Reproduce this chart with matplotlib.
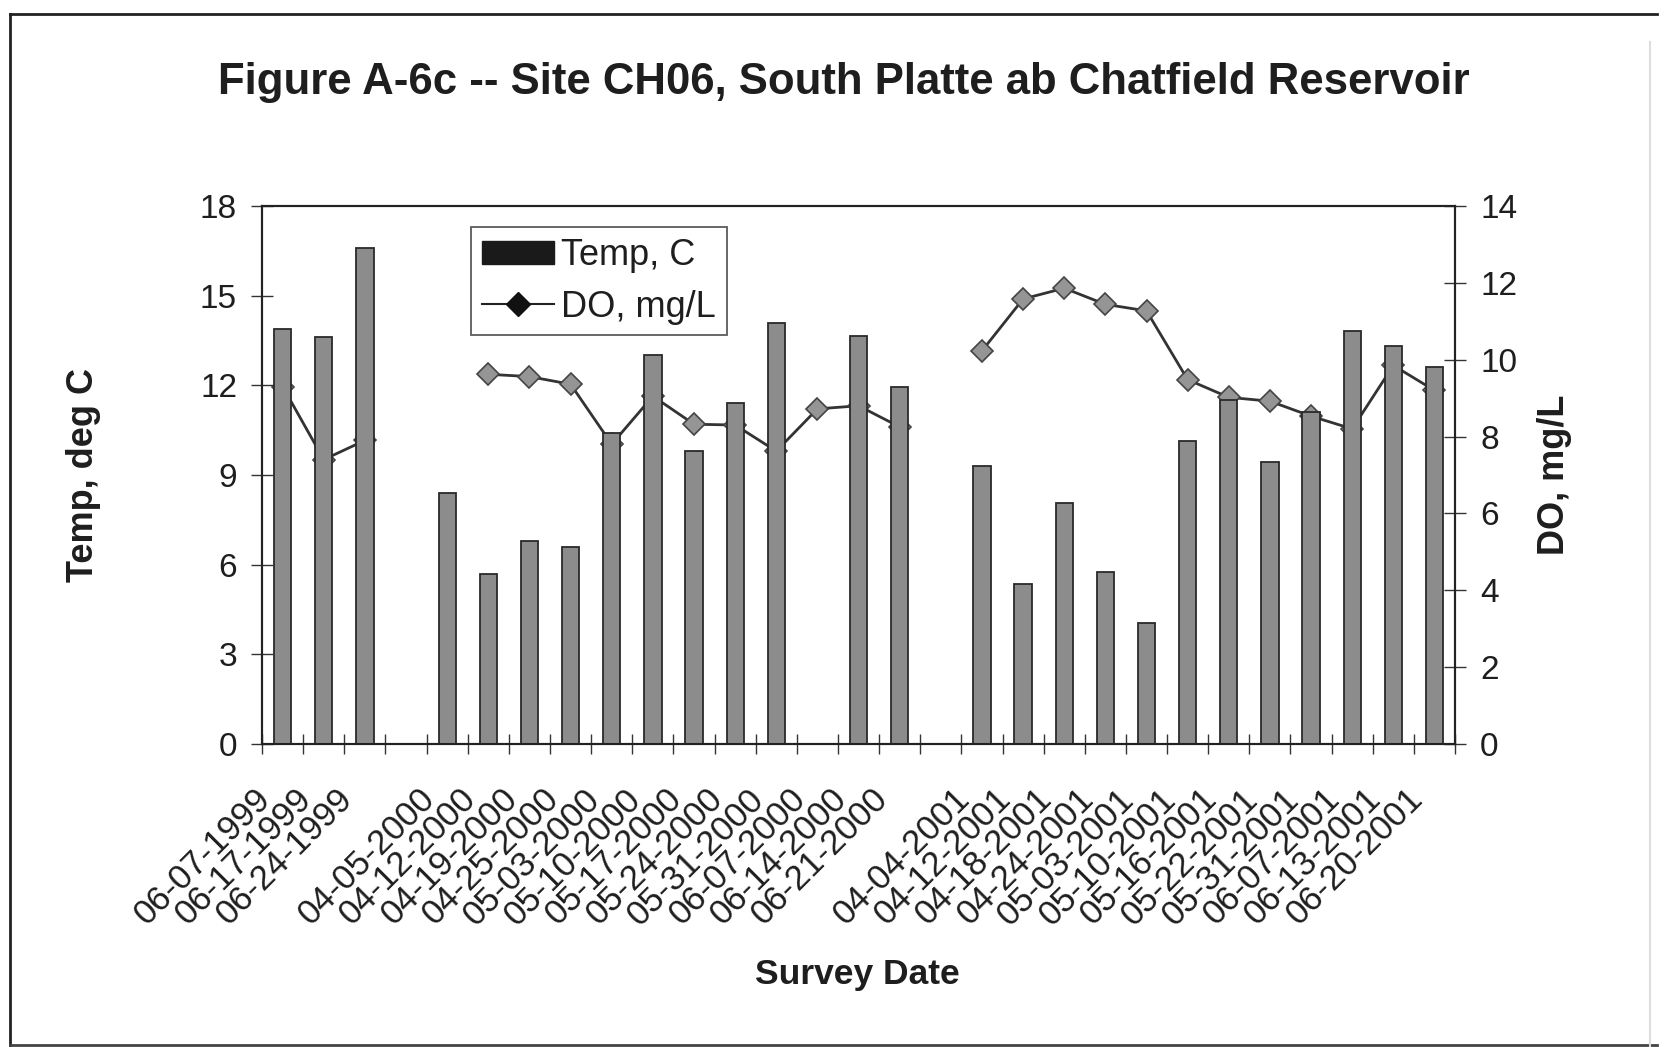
import numpy as np
import matplotlib.pyplot as plt
from matplotlib.lines import Line2D
from matplotlib.patches import Patch

plt.rcParams['font.family'] = ['Liberation Sans', 'DejaVu Sans']

# survey dates (blank entries are the gaps between years)
dates = ['06-07-1999', '06-17-1999', '06-24-1999', '',
         '04-05-2000', '04-12-2000', '04-19-2000', '04-25-2000', '05-03-2000', '05-10-2000',
         '05-17-2000', '05-24-2000', '05-31-2000', '06-07-2000', '06-14-2000', '06-21-2000', '',
         '04-04-2001', '04-12-2001', '04-18-2001', '04-24-2001', '05-03-2001', '05-10-2001',
         '05-16-2001', '05-22-2001', '05-31-2001', '06-07-2001', '06-13-2001', '06-20-2001']

nan = np.nan
temp_c = [13.9, 13.6, 16.6, nan,
          8.4, 5.7, 6.8, 6.6, 10.4, 13.0, 9.8, 11.4, 14.1, nan, 13.65, 11.95, nan,
          9.3, 5.35, 8.05, 5.75, 4.05, 10.15, 11.5, 9.45, 11.1, 13.8, 13.3, 12.6]

do_mgl = [9.3, 7.4, 7.9, nan,
          nan, 9.62, 9.56, 9.36, 7.8, 9.05, 8.32, 8.3, 7.62, 8.72, 8.8, 8.25, nan,
          10.23, 11.58, 11.86, 11.44, 11.27, 9.48, 9.02, 8.92, 8.53, 8.2, 9.85, 9.2]

x = np.arange(len(dates))
ink = '#1e1e1e'

fig = plt.figure(figsize=(16.65, 10.47), dpi=100)
ax = fig.add_axes([0.1574, 0.2894, 0.8739 - 0.1574, 0.8033 - 0.2894])
ax2 = ax.twinx()

# bars on top of the DO line, like the original
ax.set_zorder(ax2.get_zorder() + 1)
ax.patch.set_visible(False)

ax.bar(x, temp_c, width=0.42, color='#8c8c8c', edgecolor='#2a2a2a', linewidth=1.3)
ax2.plot(x, do_mgl, color='#333333', linewidth=2, marker='D', markersize=11,
         markerfacecolor='#959595', markeredgecolor='#444444', markeredgewidth=1.2)

ax.set_xlim(-0.5, len(dates) - 0.5)
ax.set_ylim(0, 18)
ax2.set_ylim(0, 14)
ax.set_yticks(np.arange(0, 19, 3))
ax2.set_yticks(np.arange(0, 15, 2))

# category ticks sit between the bars; the rotated labels end a little left of each bar
ax.set_xticks(np.arange(-0.5, len(dates), 1.0))
ax.set_xticklabels([])
ax.set_xticks(x - 0.42, minor=True)
ax.set_xticklabels(dates, minor=True, rotation=45, ha='right', va='center',
                   rotation_mode='anchor', fontsize=25, color=ink)
ax.tick_params(axis='x', which='major', direction='inout', length=14, width=1, color='#333333')
ax.tick_params(axis='x', which='minor', length=0, pad=36)
ax.tick_params(axis='y', direction='inout', length=16, width=1, labelsize=24,
               labelcolor=ink, pad=10, color='#333333')
ax2.tick_params(axis='y', direction='inout', length=16, width=1, labelsize=24,
                labelcolor=ink, pad=10, color='#333333')

for a in (ax, ax2):
    for s in a.spines.values():
        s.set_color('#222222')
        s.set_linewidth(1.5)

ax.set_ylabel('Temp, deg C', fontsize=26, fontweight='bold', color=ink, labelpad=71)
ax2.set_ylabel('DO, mg/L', fontsize=26, fontweight='bold', color=ink, rotation=90, labelpad=14)
fig.text(0.515, 0.069, 'Survey Date', ha='center', va='center', fontsize=25.5,
         fontweight='bold', color=ink)
fig.text(0.507, 0.921, 'Figure A-6c -- Site CH06, South Platte ab Chatfield Reservoir',
         ha='center', va='center', fontsize=31.5, fontweight='bold', color=ink)

handles = [Patch(facecolor='#1a1a1a', edgecolor='#1a1a1a'),
           Line2D([], [], color='#222222', linewidth=1.5, marker='D', markersize=12,
                  markerfacecolor='#111111', markeredgecolor='#111111')]
leg = ax.legend(handles, ['Temp, C', 'DO, mg/L'], loc='upper left',
                bbox_to_anchor=(0.175, 0.96), fontsize=26, frameon=True, fancybox=False,
                edgecolor='#333333', handlelength=2.0, handleheight=0.6, handletextpad=0.2,
                borderpad=0.3, labelspacing=0.45, borderaxespad=0)
leg.get_frame().set_linewidth(1.3)
for t in leg.get_texts():
    t.set_color(ink)

# scanned page frame
fig.add_artist(Line2D([0.006, 0.006], [0.0, 0.987], color='#222222', lw=2))
fig.add_artist(Line2D([0.006, 0.995], [0.987, 0.987], color='#222222', lw=2))
fig.add_artist(Line2D([0.006, 0.995], [0.002, 0.002], color='#444444', lw=2))
fig.add_artist(Line2D([0.991, 0.991], [0.0, 0.96], color='#dddddd', lw=1.5))

fig.savefig('out.png', dpi=100, facecolor='white')
